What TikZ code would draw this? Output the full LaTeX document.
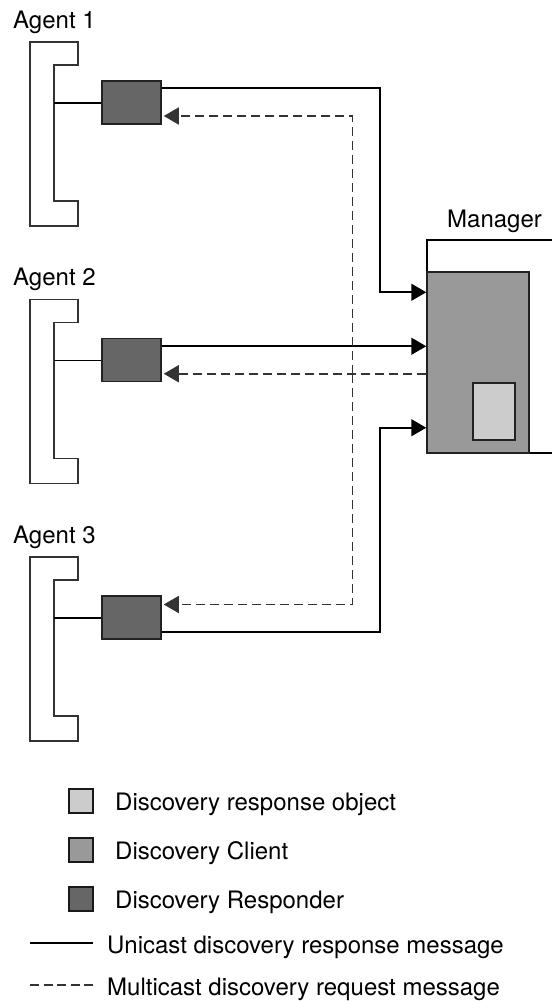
\documentclass[tikz,border=0pt]{standalone}
\usepackage{fontspec}
\setmainfont{TeX Gyre Heros}
\usetikzlibrary{arrows.meta,positioning}

\definecolor{respgray}{HTML}{666666}
\definecolor{clientgray}{HTML}{999999}
\definecolor{objgray}{HTML}{CCCCCC}
\definecolor{edgegray}{HTML}{222222}

\tikzstyle {box} = [draw=edgegray, line width=1.5pt, inner sep=0pt]
\tikzstyle {responder} = [box, fill=respgray, minimum width=59pt, minimum height=43pt]
\tikzstyle {client} = [box, fill=clientgray, minimum width=102pt, minimum height=181pt]
\tikzstyle {respobj} = [box, fill=objgray, minimum width=42pt, minimum height=57pt]
\tikzstyle {legendkey} = [draw=black!90, line width=2.8pt, minimum size=24pt, inner sep=0pt]
\tikzstyle {lbl} = [inner sep=0pt, anchor=base west]
\tikzstyle {unicast} = [line width=1.6pt, -{Triangle[length=15pt,width=17pt]}]
\tikzstyle {multicast} = [line width=1.6pt, draw=black!80, dash pattern=on 9pt off 5pt,
    -{Triangle[length=15pt,width=17pt]}, shorten >=2pt]

\begin{document}
\begin{tikzpicture}[x=1pt, y=-1pt, font=\fontsize{24}{28}\selectfont]
    \useasboundingbox (0,0) rectangle (552,1001);

    % the three agents, each with its responder
    \foreach \i/\dy in {1/0, 2/257.5, 3/515} {
        \begin{scope}[yshift=-\dy pt]
            \node [lbl] (agent\i) at (13,28) {Agent \i};
            \draw [draw=black!80, line width=1.7pt] (30,42) -- (78,42) -- (78,65) -- (54,65)
                -- (54,201) -- (78,201) -- (78,226) -- (30,226) -- cycle;
            \coordinate (stub\i) at (54,103);
            \node [responder] (rsp\i) at (131.5,102.5) {};
            \draw [line width=1.6pt] (stub\i) -- (stub\i -| rsp\i.west);
        \end{scope}
    }

    % manager with its discovery client
    \node [lbl] (mgr) at (447,227) {Manager};
    \draw [line width=1.6pt] (552,240) -- (427,240) -- (427,453) -- (552,453);
    \node [client] (cli) at (478,362.5) {};
    \node [respobj] (obj) at (494,411.5) {};

    \coordinate (ubus) at (380,0);
    \coordinate (mbus) at (352.5,0);
    \coordinate (in1) at ([yshift=-21pt]cli.north west);
    \coordinate (in2) at ([yshift=-75pt]cli.north west);
    \coordinate (in3) at ([yshift=26pt]cli.south west);
    \coordinate (out) at ([yshift=80pt]cli.south west);
    \coordinate (fork) at (mbus |- out);

    % unicast responses
    \draw [unicast] ([yshift=-8pt]rsp1.north east) -| (ubus |- in1) -- (in1);
    \draw [unicast] (in2 -| rsp2.east) -- (in2);
    \draw [unicast] ([yshift=8pt]rsp3.south east) -| (ubus |- in3) -- (in3);

    % multicast requests
    \draw [multicast] (out) -- (out -| rsp2.east);
    \draw [multicast] (fork) |- ([yshift=-13.5pt]rsp1.east);
    \draw [multicast] (fork) |- ([yshift=13pt]rsp3.east);

    % legend
    \node [legendkey, fill=objgray] (key1) at (81,801) {};
    \node [legendkey, fill=clientgray] (key2) at (81,850) {};
    \node [legendkey, fill=respgray] (key3) at (81,899) {};
    \node [lbl] (txt1) at (115,810) {Discovery response object};
    \node [lbl] (txt2) at (115,859) {Discovery Client};
    \node [lbl] (txt3) at (115,908) {Discovery Responder};
    \coordinate (uni0) at (30,943);
    \coordinate (uni1) at (93,943);
    \coordinate (mul0) at (30,985);
    \coordinate (mul1) at (93,985);
    \draw [line width=1.6pt] (uni0) -- (uni1);
    \draw [line width=1.6pt, draw=black!80, dash pattern=on 9pt off 4.5pt] (mul0) -- (mul1);
    \node [lbl] (txt4) at (107,953) {Unicast discovery response message};
    \node [lbl] (txt5) at (107,995) {Multicast discovery request message};
\end{tikzpicture}
\end{document}
